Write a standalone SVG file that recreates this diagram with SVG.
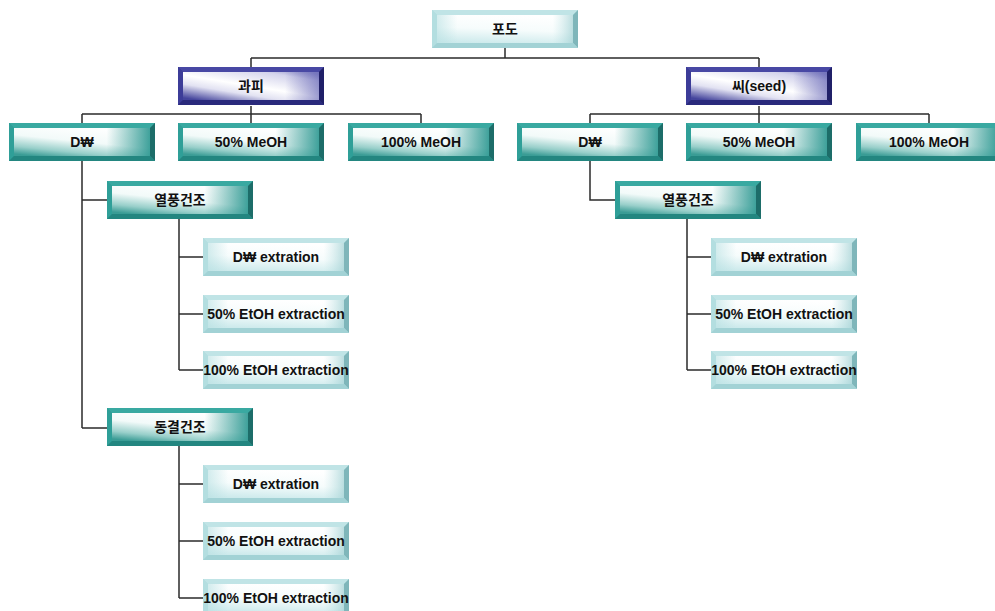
<svg xmlns="http://www.w3.org/2000/svg" xmlns:xlink="http://www.w3.org/1999/xlink" width="995" height="611" viewBox="0 0 995 611">
  <style>
    .lbl { font-family: "Liberation Sans", "Noto Sans CJK KR", sans-serif; font-size: 14px; font-weight: bold; fill: #111; text-anchor: middle; }
    .wire { fill: none; stroke: #2b2b2b; stroke-width: 1.5; }
  </style>
  <defs>
    <!-- face gradients -->
    <linearGradient id="tealFace" x1="0.65" y1="0" x2="0.15" y2="1">
      <stop offset="0" stop-color="#ffffff"/>
      <stop offset="0.45" stop-color="#f2faf9"/>
      <stop offset="0.78" stop-color="#98cfca"/>
      <stop offset="1" stop-color="#3a9c95"/>
    </linearGradient>
    <linearGradient id="tealSide" x1="0" y1="0" x2="1" y2="0">
      <stop offset="0.68" stop-color="#2a9790" stop-opacity="0"/>
      <stop offset="1" stop-color="#2a9790" stop-opacity="0.9"/>
    </linearGradient>
    <linearGradient id="navyFace" x1="0.1" y1="1" x2="0.9" y2="0">
      <stop offset="0" stop-color="#44449c"/>
      <stop offset="0.3" stop-color="#e2e2f2"/>
      <stop offset="0.5" stop-color="#ffffff"/>
      <stop offset="0.85" stop-color="#d4d4ec"/>
      <stop offset="1" stop-color="#9a9ace"/>
    </linearGradient>
    <linearGradient id="navySide" x1="0" y1="0" x2="1" y2="0">
      <stop offset="0.75" stop-color="#5a5ab0" stop-opacity="0"/>
      <stop offset="1" stop-color="#5a5ab0" stop-opacity="0.6"/>
    </linearGradient>
    <linearGradient id="cyanFace" x1="0.5" y1="0" x2="0.3" y2="1">
      <stop offset="0" stop-color="#ffffff"/>
      <stop offset="0.5" stop-color="#f6fcfc"/>
      <stop offset="1" stop-color="#cdeaec"/>
    </linearGradient>
    <linearGradient id="cyanSide" x1="0" y1="0" x2="1" y2="0">
      <stop offset="0" stop-color="#b7e0e2" stop-opacity="0.6"/>
      <stop offset="0.15" stop-color="#b7e0e2" stop-opacity="0"/>
      <stop offset="0.85" stop-color="#b7e0e2" stop-opacity="0"/>
      <stop offset="1" stop-color="#9fcfd2" stop-opacity="0.7"/>
    </linearGradient>

    <!-- bevelled box: teal -->
    <symbol id="box-teal" viewBox="0 0 146 38" width="146" height="38">
      <rect width="146" height="38" fill="#2c9a93"/>
      <polygon points="0,0 146,0 141,5 5,5" fill="#39a9a1"/>
      <polygon points="0,0 5,5 5,33 0,38" fill="#2f9f98"/>
      <polygon points="146,0 146,38 141,33 141,5" fill="#1d6d69"/>
      <polygon points="0,38 5,33 141,33 146,38" fill="#238680"/>
      <rect x="5" y="5" width="136" height="28" fill="url(#tealFace)"/>
      <rect x="5" y="5" width="136" height="28" fill="url(#tealSide)"/>
    </symbol>

    <!-- bevelled box: navy -->
    <symbol id="box-navy" viewBox="0 0 146 38" width="146" height="38">
      <rect width="146" height="38" fill="#34348c"/>
      <polygon points="0,0 146,0 141,5 5,5" fill="#4848a4"/>
      <polygon points="0,0 5,5 5,33 0,38" fill="#3c3c98"/>
      <polygon points="146,0 146,38 141,33 141,5" fill="#202068"/>
      <polygon points="0,38 5,33 141,33 146,38" fill="#2a2a7c"/>
      <rect x="5" y="5" width="136" height="28" fill="url(#navyFace)"/>
      <rect x="5" y="5" width="136" height="28" fill="url(#navySide)"/>
    </symbol>

    <!-- bevelled box: light cyan -->
    <symbol id="box-cyan" viewBox="0 0 146 38" width="146" height="38">
      <rect width="146" height="38" fill="#aedadd"/>
      <polygon points="0,0 146,0 141,5 5,5" fill="#c0e4e6"/>
      <polygon points="0,0 5,5 5,33 0,38" fill="#b3dee0"/>
      <polygon points="146,0 146,38 141,33 141,5" fill="#7fb6ba"/>
      <polygon points="0,38 5,33 141,33 146,38" fill="#a2d2d5"/>
      <rect x="5" y="5" width="136" height="28" fill="url(#cyanFace)"/>
      <rect x="5" y="5" width="136" height="28" fill="url(#cyanSide)"/>
    </symbol>
  </defs>

  <rect width="995" height="611" fill="#ffffff"/>

  <!-- connectors -->
  <g id="connectors" class="wire">
    <path d="M505,48 V58 M251,58 H759 M251,58 V67 M759,58 V67"/>
    <path d="M251,106 V114 M82,114 H421 M82,114 V123 M251,114 V123 M421,114 V123"/>
    <path d="M759,106 V114 M590,114 H929 M590,114 V123 M759,114 V123 M929,114 V123"/>
    <path d="M82,161 V428 M82,200 H107 M82,428 H107"/>
    <path d="M179,219 V370 M179,257 H203 M179,314 H203 M179,370 H203"/>
    <path d="M179,446 V598 M179,484 H203 M179,541 H203 M179,598 H203"/>
    <path d="M590,161 V200 H615"/>
    <path d="M687,219 V370 M687,257 H711 M687,314 H711 M687,370 H711"/>
  </g>

  <!-- root -->
  <g id="grape"><use href="#box-cyan" x="432" y="10"/><text class="lbl" x="505" y="34">포도</text></g>

  <!-- second level -->
  <g id="peel"><use href="#box-navy" x="178" y="67"/><text class="lbl" x="251" y="91">과피</text></g>
  <g id="seed"><use href="#box-navy" x="686" y="67"/><text class="lbl" x="759" y="91">씨(seed)</text></g>

  <!-- peel solvents -->
  <g id="peel-dw"><use href="#box-teal" x="9" y="123"/><text class="lbl" x="82" y="147">D₩</text></g>
  <g id="peel-meoh50"><use href="#box-teal" x="178" y="123"/><text class="lbl" x="251" y="147">50% MeOH</text></g>
  <g id="peel-meoh100"><use href="#box-teal" x="348" y="123"/><text class="lbl" x="421" y="147">100% MeOH</text></g>

  <!-- seed solvents -->
  <g id="seed-dw"><use href="#box-teal" x="517" y="123"/><text class="lbl" x="590" y="147">D₩</text></g>
  <g id="seed-meoh50"><use href="#box-teal" x="686" y="123"/><text class="lbl" x="759" y="147">50% MeOH</text></g>
  <g id="seed-meoh100"><use href="#box-teal" x="856" y="123"/><text class="lbl" x="929" y="147">100% MeOH</text></g>

  <!-- peel drying methods -->
  <g id="peel-hotair"><use href="#box-teal" x="107" y="181"/><text class="lbl" x="180" y="205">열풍건조</text></g>
  <g id="peel-freeze"><use href="#box-teal" x="107" y="408"/><text class="lbl" x="180" y="432">동결건조</text></g>

  <!-- peel hot-air extractions -->
  <g id="peel-hotair-dw"><use href="#box-cyan" x="203" y="238"/><text class="lbl" x="276" y="262">D₩ extration</text></g>
  <g id="peel-hotair-etoh50"><use href="#box-cyan" x="203" y="295"/><text class="lbl" x="276" y="319">50% EtOH extraction</text></g>
  <g id="peel-hotair-etoh100"><use href="#box-cyan" x="203" y="351"/><text class="lbl" x="276" y="375">100% EtOH extraction</text></g>

  <!-- peel freeze-dried extractions -->
  <g id="peel-freeze-dw"><use href="#box-cyan" x="203" y="465"/><text class="lbl" x="276" y="489">D₩ extration</text></g>
  <g id="peel-freeze-etoh50"><use href="#box-cyan" x="203" y="522"/><text class="lbl" x="276" y="546">50% EtOH extraction</text></g>
  <g id="peel-freeze-etoh100"><use href="#box-cyan" x="203" y="579"/><text class="lbl" x="276" y="603">100% EtOH extraction</text></g>

  <!-- seed drying -->
  <g id="seed-hotair"><use href="#box-teal" x="615" y="181"/><text class="lbl" x="688" y="205">열풍건조</text></g>

  <!-- seed hot-air extractions -->
  <g id="seed-hotair-dw"><use href="#box-cyan" x="711" y="238"/><text class="lbl" x="784" y="262">D₩ extration</text></g>
  <g id="seed-hotair-etoh50"><use href="#box-cyan" x="711" y="295"/><text class="lbl" x="784" y="319">50% EtOH extraction</text></g>
  <g id="seed-hotair-etoh100"><use href="#box-cyan" x="711" y="351"/><text class="lbl" x="784" y="375">100% EtOH extraction</text></g>
</svg>
